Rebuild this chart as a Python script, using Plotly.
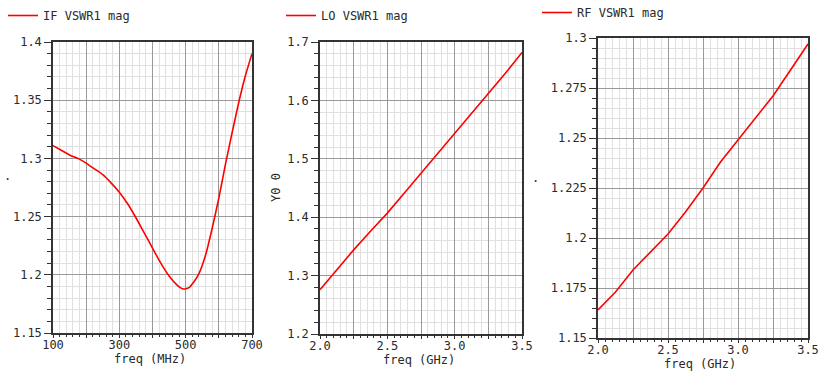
import plotly.graph_objects as go

# ---- data ----
if_freq = [100, 125, 150, 175, 200, 225, 250, 275, 300, 325, 350, 375, 400, 425,
           450, 475, 490, 500, 510, 525, 540, 560, 580, 600, 620, 640, 660, 680, 700]
if_vswr = [1.311, 1.307, 1.303, 1.300, 1.296, 1.291, 1.286, 1.279, 1.271, 1.261,
           1.249, 1.236, 1.223, 1.210, 1.199, 1.191, 1.188, 1.188, 1.189, 1.194,
           1.201, 1.217, 1.240, 1.266, 1.295, 1.322, 1.348, 1.371, 1.390]

lo_freq = [2.0, 2.125, 2.25, 2.375, 2.5, 2.625, 2.75, 2.875, 3.0, 3.125, 3.25, 3.375, 3.5]
lo_vswr = [1.276, 1.310, 1.344, 1.376, 1.407, 1.441, 1.475, 1.509, 1.543, 1.577,
           1.611, 1.646, 1.682]

rf_freq = [2.0, 2.125, 2.25, 2.375, 2.5, 2.625, 2.75, 2.875, 3.0, 3.125, 3.25, 3.375, 3.5]
rf_vswr = [1.164, 1.173, 1.184, 1.193, 1.202, 1.213, 1.225, 1.238, 1.249, 1.260,
           1.271, 1.284, 1.297]

if_xticks = [100, 200, 300, 400, 500, 600, 700]
if_xlabels = ["100", "", "300", "", "500", "", "700"]
ghz_xticks = [2.0, 2.25, 2.5, 2.75, 3.0, 3.25, 3.5]
ghz_xlabels = ["2.0", "", "2.5", "", "3.0", "", "3.5"]
if_yticks = [1.15, 1.2, 1.25, 1.3, 1.35, 1.4]
lo_yticks = [1.2, 1.3, 1.4, 1.5, 1.6, 1.7]
rf_yticks = [1.15, 1.175, 1.2, 1.225, 1.25, 1.275, 1.3]

W, H = 822, 372
FONT = "DejaVu Sans Mono"
TXT = "#2a2a2a"

def px_x(p):
    return p / W

def px_y(p):
    return 1 - p / H

fig = go.Figure()
fig.add_trace(go.Scatter(x=if_freq, y=if_vswr, mode="lines", name="IF VSWR1 mag",
                         line=dict(color="#ff0000", width=1.6, shape="spline", smoothing=0.6),
                         xaxis="x", yaxis="y", legend="legend"))
fig.add_trace(go.Scatter(x=lo_freq, y=lo_vswr, mode="lines", name="LO VSWR1 mag",
                         line=dict(color="#ff0000", width=1.6),
                         xaxis="x2", yaxis="y2", legend="legend2"))
fig.add_trace(go.Scatter(x=rf_freq, y=rf_vswr, mode="lines", name="RF VSWR1 mag",
                         line=dict(color="#ff0000", width=1.6),
                         xaxis="x3", yaxis="y3", legend="legend3"))

def axis_common():
    return dict(showline=True, linecolor="#333333", linewidth=1.5, mirror=True,
                showgrid=True, gridcolor="#999999", gridwidth=1.3, automargin=False,
                zeroline=False, ticks="outside", tickcolor="#333333",
                tickfont=dict(family=FONT, size=12, color=TXT))

def xaxis(domain, rng, tv, tt, dminor, anchor):
    d = axis_common()
    d.update(domain=domain, range=rng, tickmode="array", tickvals=tv, ticktext=tt,
             ticklen=3, tickwidth=1.2, anchor=anchor, ticklabelstandoff=-3,
             minor=dict(dtick=dminor, tick0=rng[0], showgrid=True, gridcolor="#e0e0e0",
                        gridwidth=1, ticks="outside", ticklen=2, tickcolor="#333333"))
    return d

def yaxis(domain, rng, tv, dminor, anchor):
    d = axis_common()
    d.update(domain=domain, range=rng, tickmode="array", tickvals=tv,
             ticktext=[("%g" % v) for v in tv],
             ticklen=7, tickwidth=1.2, anchor=anchor,
             minor=dict(dtick=dminor, tick0=rng[0], showgrid=True, gridcolor="#e0e0e0",
                        gridwidth=1, ticks="outside", ticklen=4, tickcolor="#333333"))
    return d

def legend(xpx, ypx):
    return dict(x=px_x(xpx), y=px_y(ypx), xanchor="left", yanchor="top",
                bgcolor="rgba(0,0,0,0)", borderwidth=0, itemwidth=30,
                font=dict(family=FONT, size=12, color=TXT))

fig.update_layout(
    template="none",
    width=W, height=H, margin=dict(l=0, r=0, t=0, b=0, autoexpand=False),
    paper_bgcolor="white", plot_bgcolor="white",
    font=dict(family=FONT, size=12, color=TXT),
    xaxis=xaxis([px_x(53), px_x(252)], [100, 700], if_xticks, if_xlabels, 20, "y"),
    yaxis=yaxis([px_y(333), px_y(42)], [1.15, 1.4], if_yticks, 0.01, "x"),
    xaxis2=xaxis([px_x(320), px_x(522)], [2.0, 3.5], ghz_xticks, ghz_xlabels, 0.05, "y2"),
    yaxis2=yaxis([px_y(334), px_y(42)], [1.2, 1.7], lo_yticks, 0.02, "x2"),
    xaxis3=xaxis([px_x(598), px_x(808)], [2.0, 3.5], ghz_xticks, ghz_xlabels, 0.05, "y3"),
    yaxis3=yaxis([px_y(338), px_y(38)], [1.15, 1.3], rf_yticks, 0.005, "x3"),
    legend=legend(3, 1),
    legend2=legend(281, 1),
    legend3=legend(537, -2),
    showlegend=True,
)

ann = [
    ("freq (MHz)", 150, 359, 0),
    ("freq (GHz)", 419, 360, 0),
    ("freq (GHz)", 700, 364, 0),
    ("Y0 0", 276, 188, -90),
    (".", 7, 176, 0),
    (".", 535, 178, 0),
]
for text, x, y, ang in ann:
    fig.add_annotation(text=text, x=px_x(x), y=px_y(y), xref="paper", yref="paper",
                       xanchor="center", yanchor="middle",
                       showarrow=False, textangle=ang,
                       font=dict(family=FONT, size=12, color=TXT))

fig.write_html("out.html", config={"displayModeBar": False},
               post_script="document.body.style.margin='0';")
